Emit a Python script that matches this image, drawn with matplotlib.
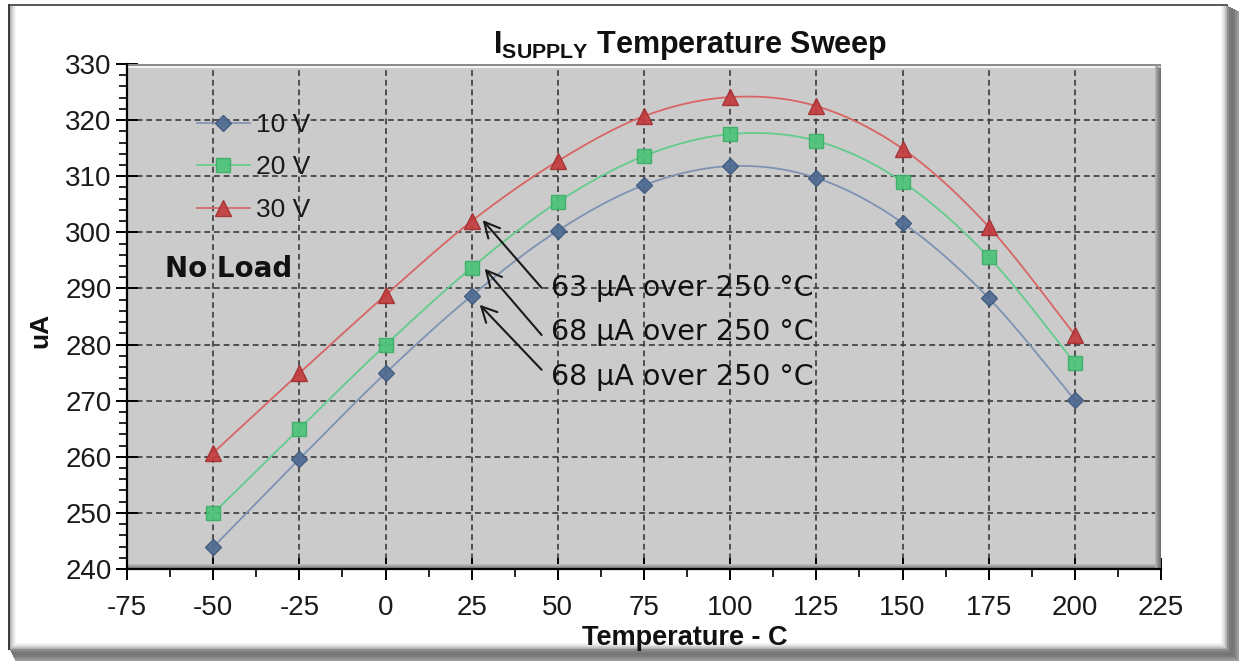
import numpy as np
import matplotlib
matplotlib.use("Agg")
import matplotlib.pyplot as plt
from matplotlib.patches import Rectangle
from matplotlib.lines import Line2D
from matplotlib.ticker import MultipleLocator
from matplotlib import transforms

plt.rcParams['font.family'] = ['Liberation Sans', 'DejaVu Sans']
plt.rcParams['axes.unicode_minus'] = False
plt.rcParams['mathtext.fontset'] = 'custom'
plt.rcParams['mathtext.bf'] = 'Liberation Sans:bold'
plt.rcParams['mathtext.rm'] = 'Liberation Sans'

# ---- data ----
temps = [-50, -25, 0, 25, 50, 75, 100, 125, 150, 175, 200]
supply_10v = [243.9, 259.6, 274.9, 288.7, 300.3, 308.4, 311.8, 309.7, 301.7, 288.3, 270.1]
supply_20v = [249.9, 265.0, 279.9, 293.7, 305.4, 313.6, 317.5, 316.3, 309.0, 295.6, 276.7]
supply_30v = [260.7, 274.9, 288.8, 302.0, 312.7, 320.7, 324.1, 322.5, 314.9, 301.0, 281.7]
series_labels = ['10 V', '20 V', '30 V']
x_ticks = [-75, -50, -25, 0, 25, 50, 75, 100, 125, 150, 175, 200, 225]
y_ticks = [240, 250, 260, 270, 280, 290, 300, 310, 320, 330]

W, H = 1239, 661
fig = plt.figure(figsize=(W / 100, H / 100), dpi=100)
fig.patch.set_facecolor('white')


def fx(x):
    return x / W


def fy(y):
    return 1 - y / H


def frect(x0, y0, x1, y1, color, z=0):
    """Rectangle in figure pixel coordinates (y measured from the top)."""
    fig.patches.append(Rectangle((fx(x0), fy(y1)), fx(x1) - fx(x0), fy(y0) - fy(y1),
                                 transform=fig.transFigure, facecolor=color,
                                 edgecolor='none', zorder=z))


# outer chart frame with bevel and drop shadow
frect(0, 0, W, H, 'white', -5)
for i, c in enumerate(['#8e8e8e', '#7c7c7c', '#747474', '#7a7a7a', '#8a8a8a', '#9c9c9c']):
    frect(1227 + 2 * i, 6 + i, 1229 + 2 * i, H, c, -4)
    frect(10 + i, 649 + 2 * i, W, 651 + 2 * i, c, -4)
frect(8, 4, 1228, 6, '#5a5a5a', -4)
frect(8, 4, 10, 650, '#3c3c3c', -4)
for i, c in enumerate(['#b0b0b0', '#c4c4c4', '#d4d4d4', '#e2e2e2', '#ececec', '#f5f5f5']):
    frect(10 + i, 6, 11 + i, 649 - i, c, -3)
    frect(10 + i, 648 - i, 1227 - i, 649 - i, c, -3)
    frect(1226 - i, 6, 1227 - i, 649 - i, c, -3)

# plot area
ax_l, ax_r, ax_t, ax_b = 127, 1161, 64, 569
ax = fig.add_axes([fx(ax_l), fy(ax_b), fx(ax_r) - fx(ax_l), fy(ax_t) - fy(ax_b)])
ax.set_facecolor('#cbcbcb')
ax.set_xlim(-75, 225)
ax.set_ylim(240, 330)
ax.xaxis.set_minor_locator(MultipleLocator(12.5))
ax.yaxis.set_minor_locator(MultipleLocator(2))
ax.set_xticks(x_ticks)
ax.set_yticks(y_ticks)
ax.set_xticklabels([str(v) for v in x_ticks])
ax.set_yticklabels([str(v) for v in y_ticks])
ax.set_axisbelow(True)
ax.grid(True, which='major', color='#3a3a3a', linewidth=1.2, linestyle=(0, (3.5, 2.3)))

for s in ['top', 'right']:
    ax.spines[s].set_visible(False)
for s in ['left', 'bottom']:
    ax.spines[s].set_linewidth(1.6)
    ax.spines[s].set_color('black')

ax.tick_params(which='major', direction='inout', length=16, width=1.4, color='black',
               labelsize=20, labelcolor='#1a1a1a')
ax.tick_params(axis='y', which='major', pad=3)
ax.tick_params(axis='x', which='major', pad=11)
ax.tick_params(which='minor', direction='out', length=6, width=1.2, color='black')

# bevel of the plot area: light top edge, dark right and bottom edges
aw, ah = ax_r - ax_l, ax_b - ax_t


def arect(x0, y0, x1, y1, color, z=1.5):
    """Rectangle in plot-area pixel offsets (y from the top of the plot area)."""
    ax.add_patch(Rectangle((x0 / aw, 1 - y1 / ah), (x1 - x0) / aw, (y1 - y0) / ah,
                           transform=ax.transAxes, facecolor=color, edgecolor='none',
                           zorder=z, clip_on=False))


arect(0, 0, aw, 1.5, '#8c8c8c')
arect(0, 1.5, aw - 6, 4, '#f2f2f2')
for i, c in enumerate(['#b4b4b4', '#a2a2a2', '#959595', '#888888', '#7a7a7a', '#6e6e6e']):
    arect(aw - 6 + i, 1.5 + i * 0.5, aw - 5 + i, ah, c)
for i, c in enumerate(['#b8b8b8', '#a8a8a8', '#999999', '#8c8c8c', '#808080']):
    arect(0, ah - 5 + i, aw - 6, ah - 4 + i, c)


def smooth(xs, ys, n=24):
    """Cardinal-spline smoothing through the points (Bezier, tension 1/6)."""
    p = np.column_stack([xs, ys]).astype(float)
    ext = np.vstack([p[0], p, p[-1]])
    t = np.linspace(0, 1, n)[:, None]
    out = []
    for k in range(1, len(ext) - 2):
        p0, p1, p2, p3 = ext[k - 1], ext[k], ext[k + 1], ext[k + 2]
        c1 = p1 + (p2 - p0) / 6
        c2 = p2 - (p3 - p1) / 6
        seg = ((1 - t) ** 3) * p1 + 3 * ((1 - t) ** 2) * t * c1 + 3 * (1 - t) * t ** 2 * c2 + t ** 3 * p2
        out.append(seg if k == 1 else seg[1:])
    out = np.vstack(out)
    return out[:, 0], out[:, 1]


styles = [
    dict(data=supply_10v, line='#7f92b4', face='#4e6a92', edge='#3f5a80', marker='D', ms=8.5),
    dict(data=supply_20v, line='#62cc8c', face='#4cc47a', edge='#3aae66', marker='s', ms=10),
    dict(data=supply_30v, line='#d86563', face='#c43c3e', edge='#a52f31', marker='^', ms=11.5),
]

handles = []
for st, lab in zip(styles, series_labels):
    sx, sy = smooth(temps, st['data'])
    ax.plot(sx, sy, color=st['line'], linewidth=1.3, zorder=3)
    ax.plot(temps, st['data'], linestyle='none', marker=st['marker'], markersize=st['ms'],
            markerfacecolor=st['face'], markeredgecolor=st['edge'], markeredgewidth=1.0,
            alpha=0.92, zorder=4)
    handles.append(Line2D([], [], color=st['line'], linewidth=1.3, marker=st['marker'],
                          markersize=st['ms'], markerfacecolor=st['face'],
                          markeredgecolor=st['edge'], alpha=0.92))

leg = ax.legend(handles, series_labels, loc='upper left',
                bbox_to_anchor=(fx(197), fy(113)), bbox_transform=fig.transFigure,
                frameon=False, fontsize=19, handlelength=2.0, handletextpad=0.25,
                labelspacing=0.7, borderpad=0, borderaxespad=0)
for t in leg.get_texts():
    t.set_color('#1a1a1a')

# "No Load" note
ax.text(fx(165), fy(269), 'No Load', transform=fig.transFigure, fontsize=20,
        fontweight='bold', family='DejaVu Sans', va='center', ha='left',
        color='#111111', zorder=6)

# span annotations: drift across the full temperature range, arrows to the 25 °C points
t_range = temps[-1] - temps[0]
i25 = temps.index(25)
notes = [
    (supply_30v, (11, 1), (45.3, 290.1), 288),
    (supply_20v, (13, -1), (45.3, 281.7), 332),
    (supply_10v, (8, -9), (45.3, 275.5), 377),
]
for data, (dx, dy), tail, text_y in notes:
    span = round(max(data) - min(data))
    tip_tr = transforms.offset_copy(ax.transData, fig=fig, x=dx, y=dy, units='dots')
    ax.annotate('', xy=(temps[i25], data[i25]), xycoords=tip_tr,
                xytext=tail, textcoords='data',
                arrowprops=dict(arrowstyle='->,head_length=0.55,head_width=0.28',
                                mutation_scale=20, color='#1a1a1a', linewidth=1.5,
                                shrinkA=0, shrinkB=0),
                zorder=6)
    ax.text(fx(551), fy(text_y), f'{span} µA over {t_range} °C', transform=fig.transFigure,
            fontsize=20.5, family='DejaVu Sans', va='center', ha='left', color='#111111',
            zorder=6)

# titles
fig.text(fx(690), fy(53), r'$\mathbf{I_{SUPPLY}}$ Temperature Sweep', fontsize=22,
         fontweight='bold', ha='center', va='baseline', color='#111111')
fig.text(fx(685), fy(638), 'Temperature - C', fontsize=19.5, fontweight='bold',
         ha='center', va='center', color='#111111')
fig.text(fx(40), fy(330), 'uA', fontsize=19, fontweight='bold', rotation=90,
         ha='center', va='center', color='#111111')

fig.savefig('out.png', dpi=100, facecolor='white')
